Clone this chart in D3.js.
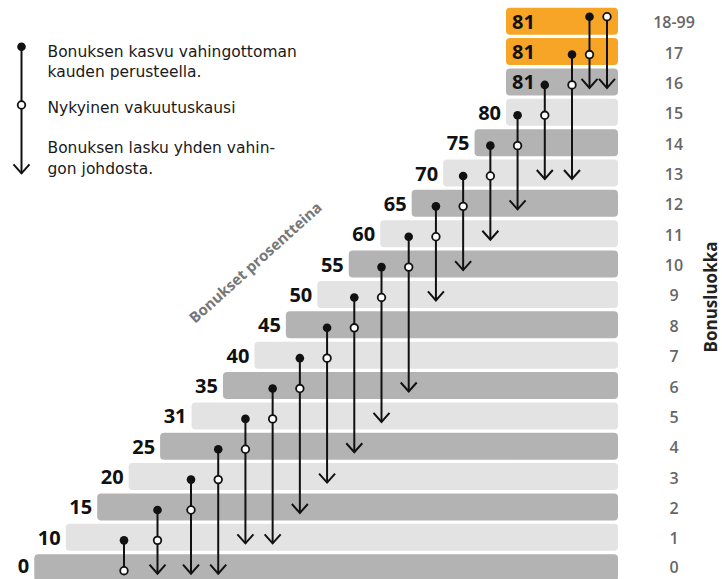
<!DOCTYPE html>
<html><head><meta charset="utf-8">
<script src="https://cdn.jsdelivr.net/npm/d3@7"></script>
<style>body{margin:0;background:#fff}svg{display:block}</style>
</head><body><svg id="c" width="722" height="579"></svg>
<script>
// ---- data ----
const classLabels = ["0","1","2","3","4","5","6","7","8","9","10","11","12","13","14","15","16","17","18-99"];
const bonusPercent = [0,10,15,20,25,31,35,40,45,50,55,60,65,70,75,80,81,81,81];
const classAfterClaim = [null,0,0,0,1,1,2,3,4,5,6,9,10,11,12,13,13,16,16];
const highlightedClasses = ["17","18-99"];
const legendLines = [
  ["Bonuksen kasvu vahingottoman","kauden perusteella."],
  ["Nykyinen vakuutuskausi"],
  ["Bonuksen lasku yhden vahin-","gon johdosta."]
];
const yTitle = "Bonusluokka";
const xTitle = "Bonukset prosentteina";

// ---- setup ----
const svg = d3.select("#c");
const FONT = "'Open Sans', sans-serif";
const LFONT = "'DejaVu Sans', sans-serif";
const n = classLabels.length;
const rows = d3.range(n);
const y = d3.scaleLinear().domain([0, n-1]).range([567.7, 21.2]);
const barX = d3.scaleLinear().domain([0, 15]).range([34.3, 506]).clamp(true);
const markX = d3.scaleLinear().domain([0, 2, 16, 18]).range([124, 191, 572, 607]);
const barRight = 618, barH = 27;
const markY = r => r === n-1 ? y(r) - 4.5 : y(r) + 3;
const colDark = "#b3b3b3", colLight = "#e3e3e3", colOrange = "#f6a526", ink = "#111";

// bars
svg.append("g").selectAll("rect").data(rows).join("rect")
  .attr("x", r => barX(r)).attr("y", r => y(r) - barH/2)
  .attr("width", r => barRight - barX(r)).attr("height", barH)
  .attr("rx", 4)
  .attr("fill", r => highlightedClasses.includes(classLabels[r]) ? colOrange : (r % 2 === 0 ? colDark : colLight));

// percent labels
svg.append("g").selectAll("text").data(rows).join("text")
  .attr("x", r => r <= 15 ? barX(r) - 5 : barX(r) + 6)
  .attr("y", r => Math.min(y(r) + 7.5, 573))
  .attr("text-anchor", r => r <= 15 ? "end" : "start")
  .attr("font-family", FONT).attr("font-weight", 700).attr("font-size", 20)
  .attr("fill", ink)
  .text(r => bonusPercent[r]);

// class labels (right)
svg.append("g").selectAll("text").data(rows).join("text")
  .attr("x", 674).attr("y", r => Math.min(y(r) + 7, 573))
  .attr("text-anchor", "middle")
  .attr("font-family", FONT).attr("font-weight", 600).attr("font-size", 16)
  .attr("fill", "#666")
  .text(r => classLabels[r]);

// markers
const mg = svg.append("g");
const marks = rows.map(c => {
  const top = c < n-1 ? markY(c+1) : markY(c);
  const cur = markY(c);
  const tgt = classAfterClaim[c];
  const bottom = tgt == null ? cur : y(tgt) + 6;
  return {c, x: markX(c), top, cur, bottom, arrow: tgt != null, dot: c < n-1};
});
mg.selectAll("line").data(marks).join("line")
  .attr("x1", d => d.x).attr("x2", d => d.x)
  .attr("y1", d => d.top).attr("y2", d => d.bottom)
  .attr("stroke", ink).attr("stroke-width", 2);
const chev = (x, yb) => `M${x-8},${yb-9}L${x},${yb}L${x+8},${yb-9}`;
mg.selectAll("path").data(marks.filter(d => d.arrow)).join("path")
  .attr("d", d => chev(d.x, d.bottom))
  .attr("fill", "none").attr("stroke", ink).attr("stroke-width", 2);
mg.selectAll("circle.dot").data(marks.filter(d => d.dot)).join("circle")
  .attr("class", "dot").attr("cx", d => d.x).attr("cy", d => d.top).attr("r", 4.3).attr("fill", ink);
mg.selectAll("circle.cur").data(marks).join("circle")
  .attr("class", "cur").attr("cx", d => d.x).attr("cy", d => d.cur).attr("r", 3.8)
  .attr("fill", "#fff").attr("stroke", ink).attr("stroke-width", 1.8);

// legend
const lg = svg.append("g");
const lx = 21.5, ly1 = 46.7, ly2 = 105, ly3 = 173.3;
lg.append("line").attr("x1", lx).attr("x2", lx).attr("y1", ly1).attr("y2", ly3).attr("stroke", ink).attr("stroke-width", 2);
lg.append("path").attr("d", chev(lx, ly3)).attr("fill", "none").attr("stroke", ink).attr("stroke-width", 2);
lg.append("circle").attr("cx", lx).attr("cy", ly1).attr("r", 4.3).attr("fill", ink);
lg.append("circle").attr("cx", lx).attr("cy", ly2).attr("r", 3.8).attr("fill", "#fff").attr("stroke", ink).attr("stroke-width", 1.8);
const legBase = [[56.5, 77], [113], [153.3, 173.5]];
legendLines.forEach((lines, i) => lines.forEach((t, j) => {
  lg.append("text").attr("x", 47.5).attr("y", legBase[i][j])
    .attr("font-family", LFONT).attr("font-size", 15.5).attr("fill", "#1a1a1a").text(t);
}));

// titles
svg.append("text").attr("transform", "translate(710,297) rotate(-90)")
  .attr("text-anchor", "middle").attr("dominant-baseline", "central")
  .attr("font-family", FONT).attr("font-weight", 700).attr("font-size", 17).attr("fill", "#222")
  .text(yTitle);
svg.append("text").attr("transform", "translate(255,262) rotate(-42)")
  .attr("text-anchor", "middle").attr("dominant-baseline", "central")
  .attr("font-family", FONT).attr("font-weight", 700).attr("font-size", 15).attr("fill", "#777")
  .text(xTitle);
</script></body></html>
